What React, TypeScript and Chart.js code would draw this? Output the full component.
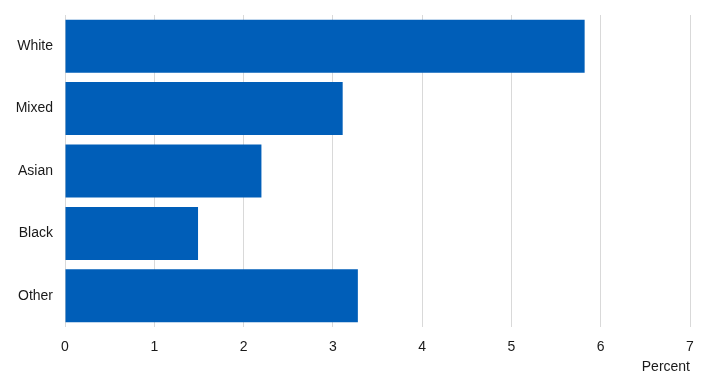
import React, { useEffect, useRef } from "react";
import { Chart, registerables } from "chart.js";

Chart.register(...registerables);

const categories = ["White", "Mixed", "Asian", "Black", "Other"];
const values = [5.82, 3.11, 2.2, 1.49, 3.28];
const xTicks = [0, 1, 2, 3, 4, 5, 6, 7];
const axisTitle = "Percent";

export default function App() {
  const ref = useRef<HTMLCanvasElement | null>(null);
  useEffect(() => {
    document.body.style.margin = "0";
    const ctx = ref.current!;
    const font = { family: "'Liberation Sans', Arial, sans-serif", size: 14 };
    const chart = new Chart(ctx, {
      type: "bar",
      data: {
        labels: categories,
        datasets: [
          {
            data: values,
            backgroundColor: "#005EB8",
            borderWidth: 0,
            barPercentage: 0.85,
            categoryPercentage: 1,
          },
        ],
      },
      options: {
        indexAxis: "y",
        animation: false,
        responsive: false,
        maintainAspectRatio: false,
        layout: { padding: { top: 15, right: 19, left: 0, bottom: 0 } },
        plugins: { legend: { display: false }, tooltip: { enabled: false } },
        scales: {
          x: {
            min: 0,
            max: xTicks[xTicks.length - 1],
            afterBuildTicks: (s: any) => {
              s.ticks = xTicks.map((v) => ({ value: v }));
            },
            afterFit: (s: any) => {
              s.height = 57;
            },
            grid: { color: "#d9d9d9", drawTicks: false, lineWidth: 1 },
            border: { display: false },
            ticks: { color: "#1a1a1a", font, padding: 12 },
            title: {
              display: true,
              text: axisTitle,
              align: "end",
              color: "#1a1a1a",
              font,
              padding: { top: 0, bottom: 8 },
            },
          },
          y: {
            grid: { display: false, drawTicks: false },
            border: { display: false },
            ticks: { color: "#1a1a1a", font, padding: 12 },
            afterFit: (s: any) => {
              s.width = 65;
              s.paddingTop = 0;
              s.paddingBottom = 0;
            },
          },
        },
      },
    });
    return () => chart.destroy();
  }, []);
  return (
    <div style={{ width: 709, height: 384 }}>
      <canvas ref={ref} width={709} height={384} style={{ width: 709, height: 384, display: "block" }} />
    </div>
  );
}
